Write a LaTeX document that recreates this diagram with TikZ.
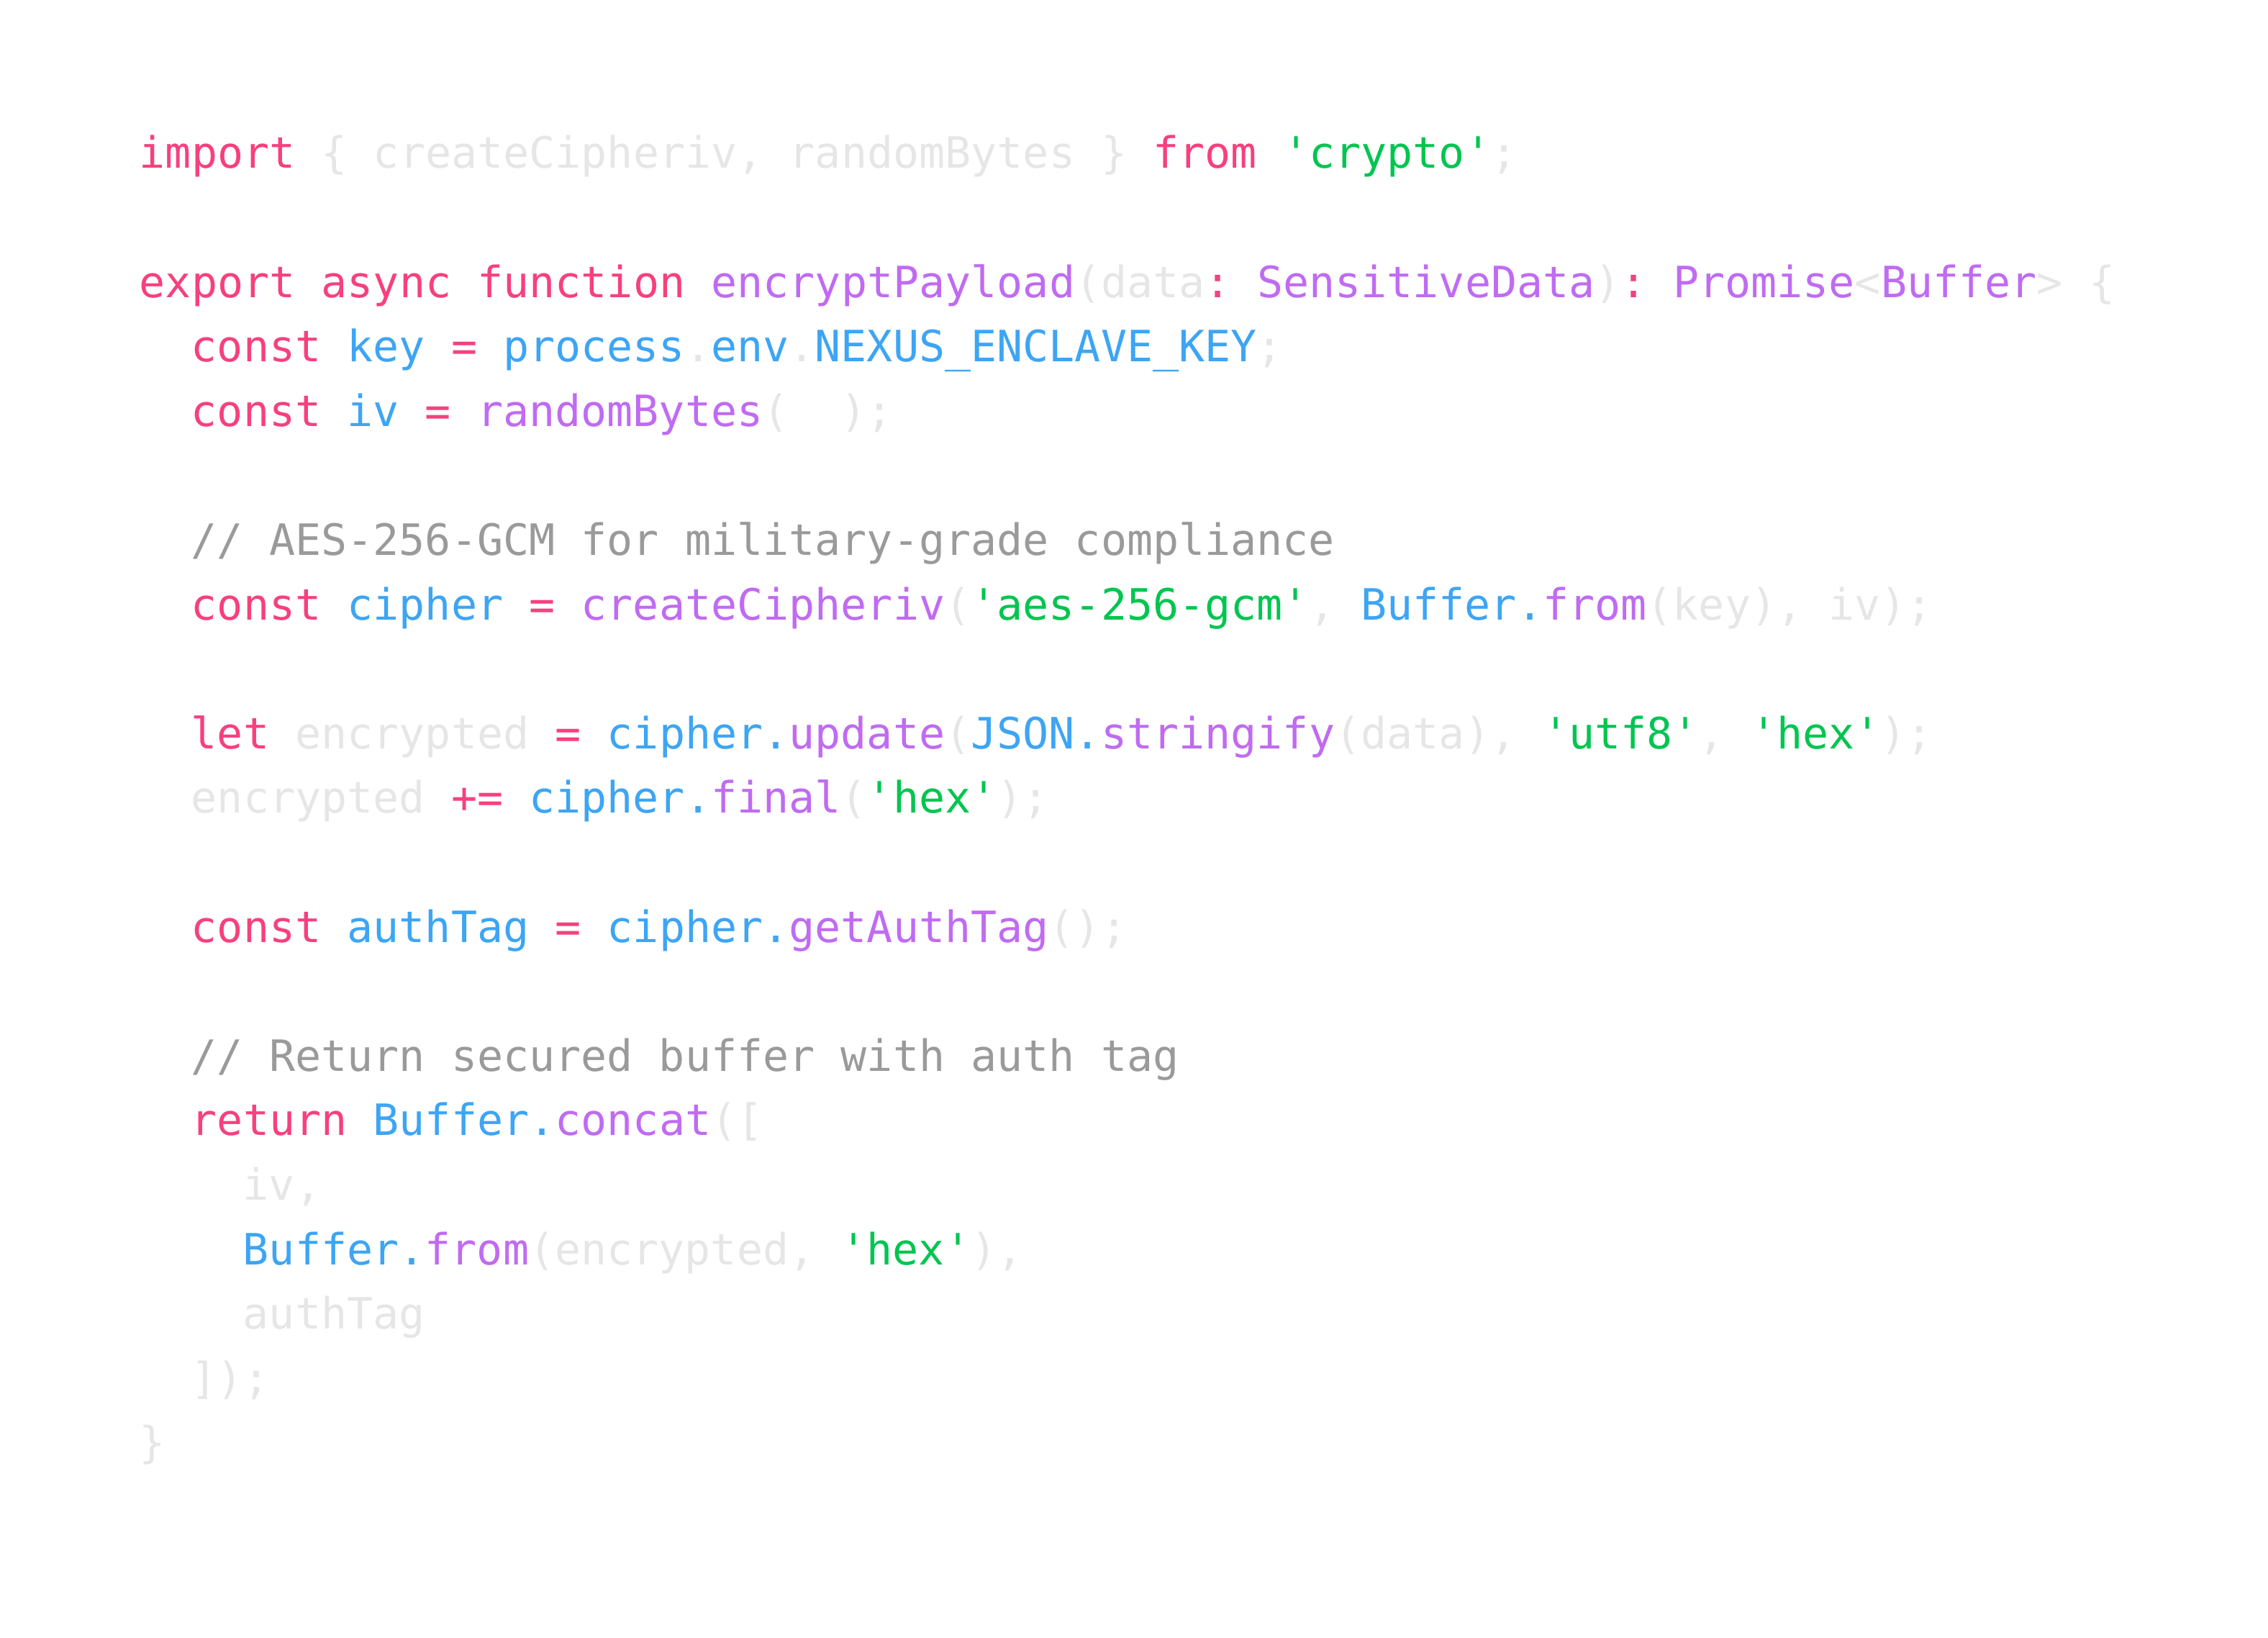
\documentclass[tikz,border=0pt]{standalone}
\usepackage{fontspec}
\setmonofont{DejaVu Sans Mono}
\definecolor{kwc}{HTML}{F7407E}
\definecolor{idc}{HTML}{3DA5F4}
\definecolor{fnc}{HTML}{C06BF2}
\definecolor{stc}{HTML}{00C550}
\definecolor{cmc}{HTML}{9A9A9A}
\definecolor{fac}{HTML}{E6E6E6}
\newcommand\kw[1]{\textcolor{kwc}{#1}}
\newcommand\idt[1]{\textcolor{idc}{#1}}
\newcommand\fn[1]{\textcolor{fnc}{#1}}
\newcommand\cstr[1]{\textcolor{stc}{#1}}
\newcommand\cmt[1]{\textcolor{cmc}{#1}}
\newcommand\fa[1]{\textcolor{fac}{#1}}
\tikzset{
  code/.style={anchor=base west, inner sep=0pt, font=\ttfamily\fontsize{15pt}{18pt}\selectfont}
}
\begin{document}
\begin{tikzpicture}[x=1pt,y=1pt]
    \useasboundingbox (0,0) rectangle (788,-569);
    \node [code] (l1) at (48.25,-58.5) {\kw{import} \fa{\{ createCipheriv, randomBytes \}} \kw{from} \cstr{'crypto'}\fa{;}};
    \node [code] (l3) at (48.25,-103.3) {\kw{export async function} \fn{encryptPayload}\fa{(data}\kw{:} \fn{SensitiveData}\fa{)}\kw{:} \fn{Promise}\fa{<}\fn{Buffer}\fa{> \{}};
    \node [code] (l4) at (66.25,-125.7) {\kw{const} \idt{key} \kw{=} \idt{process}\fa{.}\idt{env}\fa{.}\idt{NEXUS\_ENCLAVE\_KEY}\fa{;}};
    \node [code] (l5) at (66.25,-148.1) {\kw{const} \idt{iv} \kw{=} \fn{randomBytes}\fa{(\ \ );}};
    \node [code] (l7) at (66.25,-192.9) {\cmt{// AES-256-GCM for military-grade compliance}};
    \node [code] (l8) at (66.25,-215.3) {\kw{const} \idt{cipher} \kw{=} \fn{createCipheriv}\fa{(}\cstr{'aes-256-gcm'}\fa{,} \idt{Buffer.}\fn{from}\fa{(key), iv);}};
    \node [code] (l10) at (66.25,-260.1) {\kw{let} \fa{encrypted} \kw{=} \idt{cipher.}\fn{update}\fa{(}\idt{JSON.}\fn{stringify}\fa{(data),} \cstr{'utf8'}\fa{,} \cstr{'hex'}\fa{);}};
    \node [code] (l11) at (66.25,-282.5) {\fa{encrypted} \kw{+=} \idt{cipher.}\fn{final}\fa{(}\cstr{'hex'}\fa{);}};
    \node [code] (l13) at (66.25,-327.3) {\kw{const} \idt{authTag} \kw{=} \idt{cipher.}\fn{getAuthTag}\fa{();}};
    \node [code] (l15) at (66.25,-372.1) {\cmt{// Return secured buffer with auth tag}};
    \node [code] (l16) at (66.25,-394.5) {\kw{return} \idt{Buffer.}\fn{concat}\fa{([}};
    \node [code] (l17) at (84.25,-416.9) {\fa{iv,}};
    \node [code] (l18) at (84.25,-439.3) {\idt{Buffer.}\fn{from}\fa{(encrypted,} \cstr{'hex'}\fa{),}};
    \node [code] (l19) at (84.25,-461.7) {\fa{authTag}};
    \node [code] (l20) at (66.25,-484.1) {\fa{]);}};
    \node [code] (l21) at (48.25,-506.5) {\fa{\}}};
\end{tikzpicture}
\end{document}
